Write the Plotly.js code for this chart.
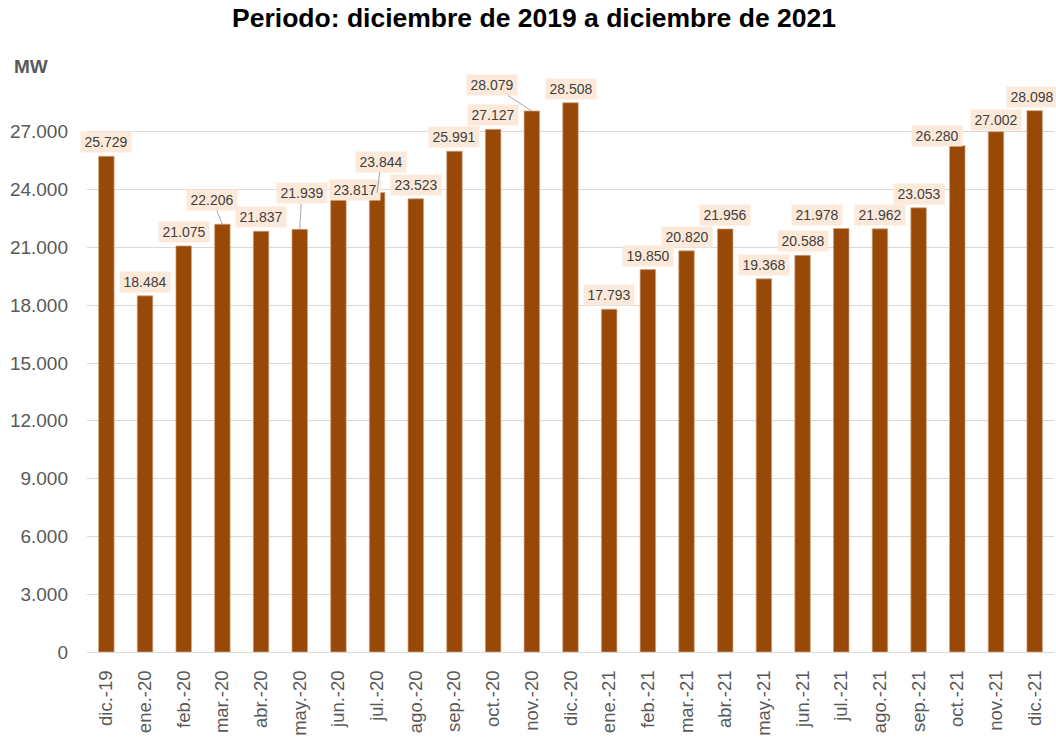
<!DOCTYPE html>
<html>
<head>
<meta charset="utf-8">
<script src="https://cdn.plot.ly/plotly-3.0.1.min.js"></script>
<style>html,body{margin:0;padding:0;background:#fff;}#chart{width:1056px;height:737px;}</style>
</head>
<body>
<div id="chart"></div>
<script>
const months = ["dic.-19","ene.-20","feb.-20","mar.-20","abr.-20","may.-20","jun.-20","jul.-20","ago.-20","sep.-20","oct.-20","nov.-20","dic.-20","ene.-21","feb.-21","mar.-21","abr.-21","may.-21","jun.-21","jul.-21","ago.-21","sep.-21","oct.-21","nov.-21","dic.-21"];
const demandMW = [25729,18484,21075,22206,21837,21939,23817,23844,23523,25991,27127,28079,28508,17793,19850,20820,21956,19368,20588,21978,21962,23053,26280,27002,28098];
const yTicks = [0,3000,6000,9000,12000,15000,18000,21000,24000,27000];
// labels drawn with a leader line: [dx, dy] pixel offset of the label from the bar top
const leaderOffsets = {"mar.-20":[-10,-24],"may.-20":[2,-36],"jul.-20":[4,-31],"nov.-20":[-40,-26]};
// labels moved aside without a leader line: [dx, dy]
const shiftedLabels = {"jun.-20":[17,-3],"jul.-21":[-24,-14],"oct.-21":[-20,-10],"nov.-21":[0,-12],"dic.-21":[-3,-14]};

const FONT = 'Liberation Sans, Arial, sans-serif';
function fmt(v){return String(v).replace(/\B(?=(\d{3})+(?!\d))/g,".");}

const annotations = months.map((m,i)=>{
  const base = {x:m, y:demandMW[i], xref:'x', yref:'y', text:fmt(demandMW[i]),
    font:{family:FONT, size:14, color:'#404040'},
    bgcolor:'#FDE9D9', borderpad:2, width:46};
  if (leaderOffsets[m]) {
    return Object.assign(base,{showarrow:true, arrowhead:0, arrowwidth:1, arrowcolor:'#a6a6a6',
      ax:leaderOffsets[m][0], ay:leaderOffsets[m][1], standoff:0});
  }
  const s = shiftedLabels[m] || [0,-14];
  return Object.assign(base,{showarrow:false, xanchor:'center', yanchor:'middle', xshift:s[0], yshift:-s[1]});
});
annotations.push({xref:'paper', yref:'paper', x:-0.078, y:1.0138, xanchor:'left', yanchor:'middle',
  text:'<b>MW</b>', showarrow:false, font:{family:FONT, size:19, color:'#595959'}});

const trace = {type:'bar', x:months, y:demandMW, marker:{color:'#984807', line:{color:'#d4a27c', width:0.7}},
  hoverinfo:'x+y'};

const layout = {
  width:1056, height:737,
  margin:{l:87, r:2, t:74, b:85},
  paper_bgcolor:'#ffffff', plot_bgcolor:'#ffffff',
  separators:',.',
  title:{text:'<b>Periodo: diciembre de 2019 a diciembre de 2021</b>', x:0.5057, xanchor:'center', y:0.9756, yanchor:'middle',
    font:{family:FONT, size:26.5, color:'#000000'}},
  bargap:0.6,
  showlegend:false,
  xaxis:{type:'category', range:[-0.5, months.length-0.5], autorange:false,
    tickangle:-90, tickfont:{family:FONT, size:18.5, color:'#595959'}, automargin:false,
    showline:true, linecolor:'#d9d9d9', linewidth:1, ticks:'', showgrid:false, ticklabelstandoff:10},
  yaxis:{range:[0,30000], autorange:false, tickvals:yTicks, ticktext:yTicks.map(fmt), showgrid:true, gridcolor:'#d9d9d9', gridwidth:1,
    zeroline:false, showline:false, ticks:'', ticklen:0, ticklabelstandoff:18, automargin:false,
    tickfont:{family:FONT, size:19, color:'#595959'}},
  annotations:annotations
};
Plotly.newPlot('chart',[trace],layout,{displayModeBar:false, staticPlot:true});
</script>
</body>
</html>
